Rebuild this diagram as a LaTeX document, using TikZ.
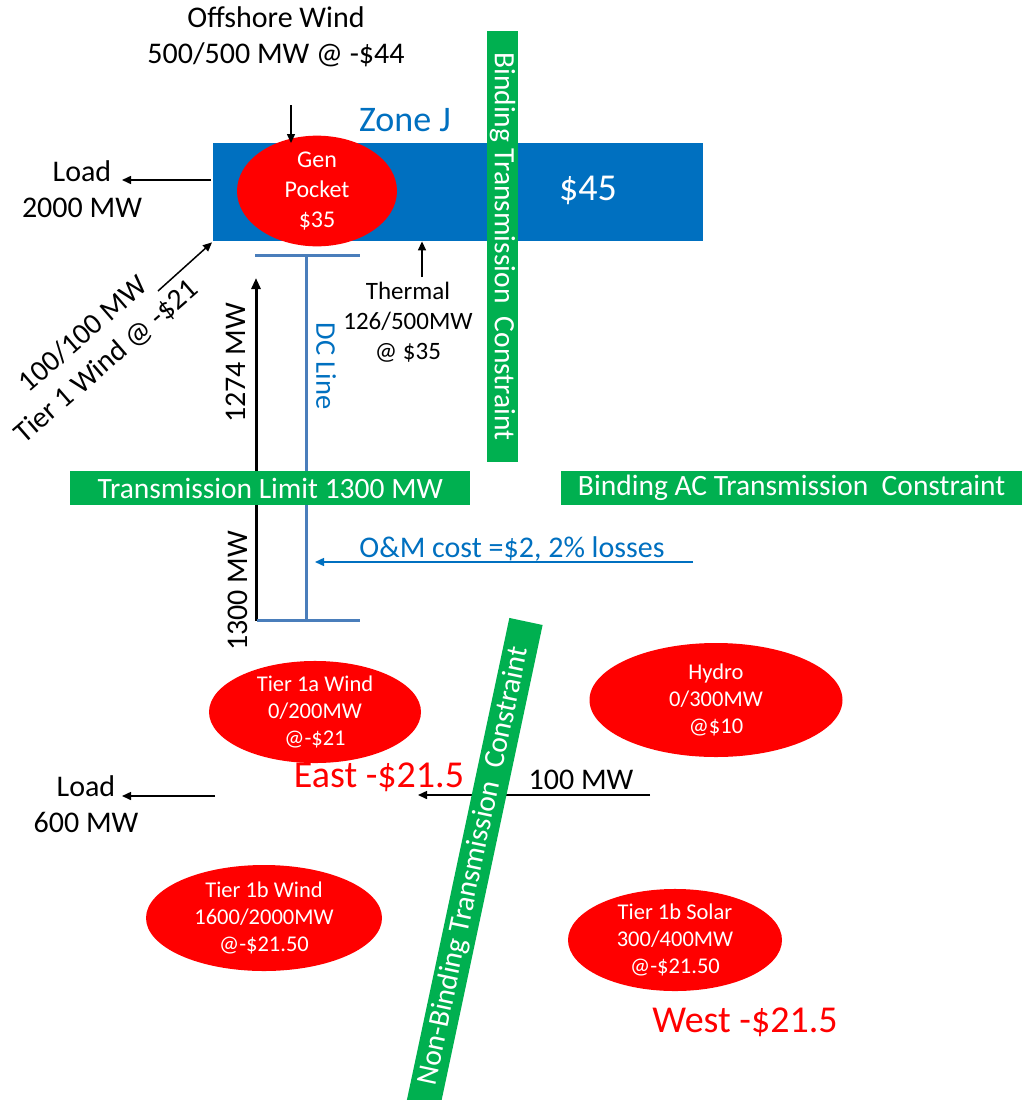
\documentclass[tikz,border=0pt]{standalone}
\usepackage{fontspec}
\setmainfont{Carlito}
\usetikzlibrary{shapes.geometric,arrows.meta}
\definecolor{zblue}{HTML}{0070C0}
\definecolor{zgreen}{HTML}{00B050}
\definecolor{zred}{HTML}{FF0000}
\definecolor{dcblue}{HTML}{4A7EBB}
\begin{document}
\begin{tikzpicture}[x=1pt,y=-1pt,
  lbl/.style={font=\fontsize{30}{36}\selectfont, align=center, inner sep=0pt},
  gen/.style={ellipse, fill=zred, text=white, font=\fontsize{22.5}{27}\selectfont, align=center, inner sep=0pt},
  band/.style={fill=zgreen, text=white, font=\fontsize{29.5}{34}\selectfont, inner sep=0pt},
  arr/.style={-{Triangle[length=9pt,width=8pt]}, line width=1.5pt},
  dcl/.style={draw=dcblue, line width=3pt},
  bigred/.style={text=zred, font=\fontsize{38}{44}\selectfont, inner sep=0pt}]
\useasboundingbox (0,0) rectangle (1027,1100);
\fill[white] (0,0) rectangle (1027,1100);

% Zone J
\node[fill=zblue, minimum width=490pt, minimum height=98pt, inner sep=0pt, anchor=north west] (zone) at (213,143) {};
\node[gen, minimum width=160pt, minimum height=94pt, font=\fontsize{24}{30}\selectfont] (pocket) at (317,191) {Gen\\Pocket\\\$35};
\node[text=white, font=\fontsize{38}{44}\selectfont, inner sep=0pt] (p45) at (588,190) {\$45};
\node[text=zblue, font=\fontsize{36}{40}\selectfont, inner sep=0pt] (zonej) at (405,120) {Zone J};

% Offshore wind
\node[lbl] (off) at (276,37) {Offshore Wind\\500/500 MW @ -\$44};
\coordinate (offa) at (291,105);
\draw[arr] (offa) -- (offa |- zone.north);

% Load 2000
\node[lbl] (load1) at (82,189) {Load\\2000 MW};
\coordinate (l1s) at (211,180);
\coordinate (l1e) at (122,180);
\draw[arr] (l1s) -- (l1e);

% Tier 1 wind
\node[lbl, rotate=41, font=\fontsize{29.5}{36}\selectfont] (tier1) at (95,348) {100/100 MW\\Tier 1 Wind @ -\$21};
\coordinate (t1s) at (158,291);
\draw[arr] (t1s) -- ([shift={(-1,1)}]zone.south west);

% Thermal
\node[lbl, font=\fontsize{25}{30}\selectfont] (thermal) at (408,322) {Thermal\\126/500MW\\@ \$35};
\coordinate (ths) at (422,277);
\draw[arr] (ths) -- (ths |- zone.south);

% flow arrow 1300 -> 1274
\coordinate (flb) at (256,621);
\coordinate (flt) at (256,278);
\draw[-{Triangle[length=11pt,width=9pt]}, line width=3pt] (flb) -- (flt);
\node[lbl, rotate=90] (f1274) at (236,363) {1274 MW};
\node[lbl, rotate=90] (f1300) at (238,591) {1300 MW};

% DC line
\coordinate (dct) at (306,255);
\coordinate (dcb) at (306,620);
\draw[dcl] (255,255) -- (360,255);
\draw[dcl] (dct) -- (dcb);
\draw[dcl] (257,620) -- (360,620);
\node[text=zblue, rotate=-90, font=\fontsize{28.5}{34}\selectfont, inner sep=0pt] (dclbl) at (326,366) {DC Line};

% Binding vertical constraint
\node[band, rotate=-90, minimum width=431pt, minimum height=31pt] (bind) at (502.5,246.5) {Binding Transmission\ \ Constraint};

% horizontal bars
\node[band, minimum width=400pt, minimum height=34pt, anchor=north west] (tlim) at (70,471) {Transmission Limit 1300 MW};
\node[band, minimum width=461pt, minimum height=34pt, anchor=north west] (bac) at (561,471) {Binding AC Transmission\ \ Constraint};

% O&M
\node[text=zblue, font=\fontsize{30}{34}\selectfont, inner sep=0pt] (om) at (512,549) {O\&M cost =\$2, 2\% losses};
\coordinate (oms) at (693,562);
\draw[draw=zblue, -{Triangle[length=9pt,width=8pt]}, line width=1.5pt] (oms) -- (315,562);

% generators
\node[gen, minimum width=212pt, minimum height=97pt] (t1a) at (315,712) {Tier 1a Wind\\0/200MW\\@-\$21};
\node[gen, minimum width=253pt, minimum height=114pt] (hydro) at (716,700) {Hydro\\0/300MW\\@\$10};
\node[gen, minimum width=236pt, minimum height=106pt] (t1b) at (264,918) {Tier 1b Wind\\1600/2000MW\\@-\$21.50};
\node[gen, minimum width=214pt, minimum height=97pt] (t1s) at (675,940) {Tier 1b Solar\\300/400MW\\@-\$21.50};

% East / West
\node[bigred] (east) at (379,777) {East -\$21.5};
\node[bigred] (west) at (745,1022) {West -\$21.5};

% 100 MW flow
\coordinate (h1) at (650,795);
\coordinate (h2) at (418,795);
\draw[arr] (h1) -- (h2);
\node[lbl] (f100) at (581,780) {100 MW};

% Load 600
\node[lbl] (load2) at (86,804) {Load\\600 MW};
\coordinate (l2s) at (215,796);
\coordinate (l2e) at (122,796);
\draw[arr] (l2s) -- (l2e);

% Non-binding rotated bar
\node[band, rotate=78, minimum width=500pt, minimum height=34pt] (nonb) at (474,866) {Non-Binding Transmission\ \ Constraint};
\end{tikzpicture}
\end{document}
